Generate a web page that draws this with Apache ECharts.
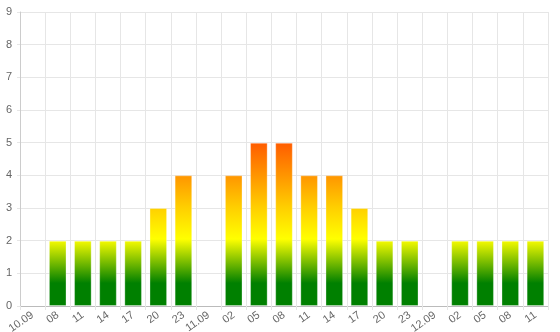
<!DOCTYPE html>
<html>
<head>
<meta charset="utf-8">
<script src="https://cdn.jsdelivr.net/npm/echarts@6/dist/echarts.min.js"></script>
<style>html,body{margin:0;padding:0;background:#fff}#c{width:560px;height:332px}</style>
</head>
<body>
<div id="c"></div>
<script>
var categories = ['10.09','08','11','14','17','20','23','11.09','02','05','08','11','14','17','20','23','12.09','02','05','08','11'];
var values = [null,2,2,2,2,3,4,null,4,5,5,4,4,3,2,2,null,2,2,2,2];
var yTicks = {min: 0, max: 9, interval: 1};
var colorStops = [
  {v: 0, c: '#008000'},
  {v: 0.7, c: '#008000'},
  {v: 2.05, c: '#ffff00'},
  {v: 3, c: '#ffd000'},
  {v: 4, c: '#ff9500'},
  {v: 5, c: '#ff5c00'},
  {v: 9, c: '#ff0000'}
];

var chart = echarts.init(document.getElementById('c'), null, {renderer: 'canvas'});
var gridTop = 12, gridBottom = 26, H = 332;
var grad = new echarts.graphic.LinearGradient(0, H - gridBottom, 0, gridTop,
  colorStops.map(function (s) { return {offset: s.v / yTicks.max, color: s.c}; }), true);

chart.setOption({
  animation: false,
  grid: {left: 20, right: 12, top: gridTop, bottom: gridBottom, containLabel: false, outerBoundsMode: 'none'},
  xAxis: {
    type: 'category',
    data: categories,
    boundaryGap: true,
    axisLine: {lineStyle: {color: '#bbb'}},
    axisTick: {show: true, length: 4, lineStyle: {color: '#e6e6e6'}},
    splitLine: {show: true, lineStyle: {color: '#e6e6e6'}},
    axisLabel: {interval: 0, rotate: 35, color: '#666', fontSize: 11, margin: 8, fontFamily: 'Arial, Liberation Sans, sans-serif'}
  },
  yAxis: {
    type: 'value',
    min: yTicks.min, max: yTicks.max, interval: yTicks.interval,
    axisLine: {show: true, lineStyle: {color: '#ccc'}},
    axisTick: {show: true, length: 3, lineStyle: {color: '#e6e6e6'}},
    splitLine: {show: true, lineStyle: {color: '#e6e6e6'}},
    axisLabel: {color: '#666', fontSize: 11, margin: 8, fontFamily: 'Arial, Liberation Sans, sans-serif'}
  },
  series: [{
    type: 'bar',
    data: values,
    barWidth: '70%',
    itemStyle: {color: grad, borderColor: 'rgba(255,255,255,0.3)', borderWidth: 1}
  }]
});
</script>
</body>
</html>
